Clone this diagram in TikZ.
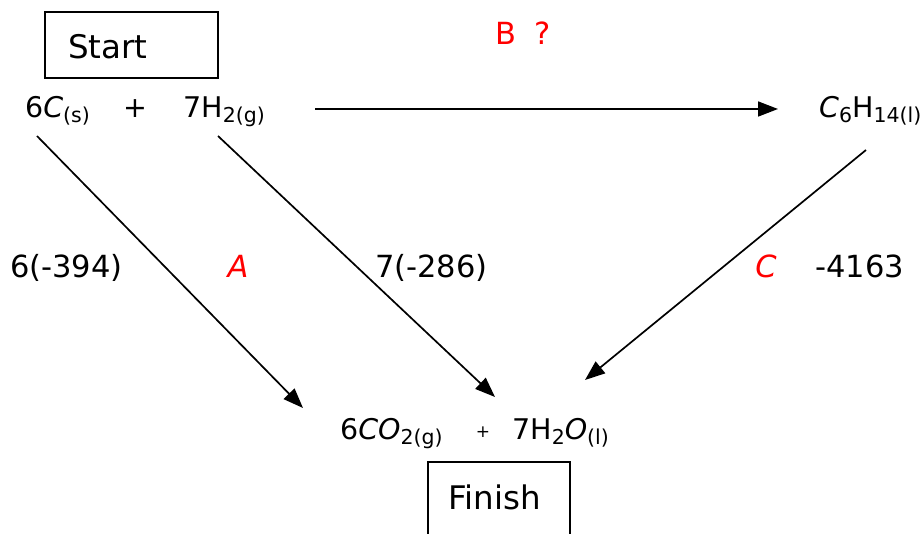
\documentclass[tikz,border=0pt]{standalone}
\usepackage{fontspec}
\setmainfont{DejaVu Sans}
\usetikzlibrary{arrows.meta}
\newcommand\sbs[1]{\raisebox{-0.3ex}{\fontsize{20.5}{20}\selectfont #1}}
\begin{document}
\begin{tikzpicture}[x=1pt,y=-1pt,
  txt/.style={inner sep=0pt,font=\fontsize{28.5}{32}\selectfont},
  boxtxt/.style={inner sep=0pt,font=\fontsize{32.5}{36}\selectfont},
  lbl/.style={inner sep=0pt,font=\fontsize{30.5}{34}\selectfont},
  redlbl/.style={lbl,text=red},
  boxline/.style={draw,line width=2pt},
  arr/.style={line width=1.7pt,-{Triangle[length=20pt,width=15pt]}}]
\useasboundingbox (0,0) rectangle (922,534);
% boxes
\draw[boxline] (45,12) rectangle (218,78);
\node[boxtxt,anchor=west] (start) at (68,47) {Start};
\draw[boxline] (428,462) rectangle (570,560);
\node[boxtxt,anchor=west] (finish) at (448,497) {Finish};
% top row
\node[txt,anchor=base west] (cs) at (25,118) {6\textit{C}\sbs{(s)}};
\node[txt,anchor=base] (plus1) at (135,118) {+};
\node[txt,anchor=base west] (h2) at (183,118) {7H\sbs{2(g)}};
\node[txt,anchor=base west] (hex) at (819,118) {\textit{C}\sbs{6}H\sbs{14(l)}};
\node[redlbl,anchor=base] (B) at (523,45) {B\hspace{0.6em}?};
% bottom row
\node[txt,anchor=base west] (co2) at (340,440) {6\textit{CO}\sbs{2(g)}};
\node[inner sep=0pt,anchor=base,font=\fontsize{17}{18}\selectfont] (plus2) at (483,438) {+};
\node[txt,anchor=base west] (h2o) at (512,440) {7H\sbs{2}\textit{O}\sbs{(l)}};
% labels
\node[lbl,anchor=base west] (l394) at (10,278) {6(-394)};
\node[redlbl,anchor=base,font=\fontsize{30.5}{34}\selectfont\itshape] (A) at (238,278) {A};
\node[lbl,anchor=base west] (l286) at (375,278) {7(-286)};
\node[redlbl,anchor=base,font=\fontsize{30.5}{34}\selectfont\itshape] (C) at (766,278) {C};
\node[lbl,anchor=base west] (l4163) at (815,278) {-4163};
% connector ends
\coordinate (hs) at (315,109);
\coordinate (he) at (778,109);
\coordinate (a1s) at (37,136);
\coordinate (a1e) at (303,408);
\coordinate (a2s) at (218,136);
\coordinate (a2e) at (495,397);
\coordinate (a3s) at (866,150);
\coordinate (a3e) at (585,380);
\draw[arr] (hs) -- (he);
\draw[arr] (a1s) -- (a1e);
\draw[arr] (a2s) -- (a2e);
\draw[arr] (a3s) -- (a3e);
\end{tikzpicture}
\end{document}
